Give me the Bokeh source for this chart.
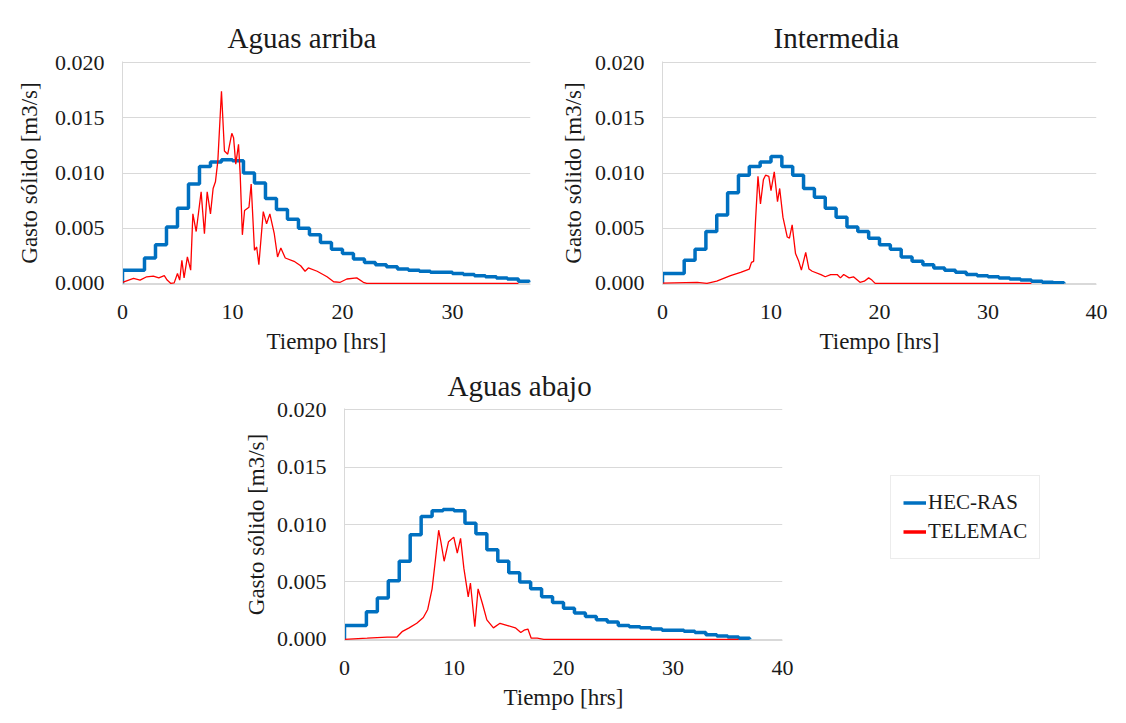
from bokeh.plotting import figure
from bokeh.layouts import column, row
from bokeh.models import (Range1d, FixedTicker, PrintfTickFormatter, Legend, LegendItem, Spacer)
from bokeh.embed import file_html
from bokeh.resources import INLINE

# ---------------- data ----------------
titles = ["Aguas arriba", "Intermedia", "Aguas abajo"]
x_label = "Tiempo [hrs]"
y_label = "Gasto sólido [m3/s]"
series_names = ["HEC-RAS", "TELEMAC"]
y_ticks = [0.0, 0.005, 0.010, 0.015, 0.020]

hec_t = [0, 0, 2, 3, 4, 5, 6, 7, 8, 9, 10, 11, 12, 13, 14, 15, 16, 17, 18, 19, 20,
         21, 22, 23, 24, 25, 26, 27, 28, 29, 30, 31, 32, 33, 34, 35, 36, 37]

hec_arriba = [0.0, 0.0012, 0.0023, 0.0035, 0.0051, 0.0068, 0.0090, 0.0106, 0.0110, 0.0112,
              0.0111, 0.0100, 0.0091, 0.0077, 0.0067, 0.0058, 0.0050, 0.0044, 0.0037, 0.0031,
              0.0027, 0.0022, 0.0019, 0.0017, 0.0015, 0.0013, 0.0012, 0.0011, 0.0010, 0.0010,
              0.0009, 0.0008, 0.0007, 0.0006, 0.0005, 0.0004, 0.0002, 0.0001]

hec_inter = [0.0, 0.0009, 0.0021, 0.0031, 0.0047, 0.0062, 0.0082, 0.0098, 0.0106, 0.0110,
             0.0115, 0.0106, 0.0098, 0.0086, 0.0078, 0.0068, 0.0060, 0.0051, 0.0047, 0.0041,
             0.0035, 0.0031, 0.0024, 0.0020, 0.0017, 0.0014, 0.0012, 0.0010, 0.0008, 0.0007,
             0.0006, 0.0005, 0.0004, 0.0003, 0.0002, 0.0001, 0.00005, 0.0]

hec_abajo = [0.0, 0.0012, 0.0024, 0.0036, 0.0051, 0.0068, 0.0091, 0.0107, 0.0112, 0.0113,
             0.0112, 0.0101, 0.0092, 0.0078, 0.0068, 0.0058, 0.0050, 0.0044, 0.0037, 0.0032,
             0.0027, 0.0023, 0.0020, 0.0017, 0.0015, 0.0012, 0.0011, 0.0010, 0.0009, 0.0008,
             0.0008, 0.0007, 0.0006, 0.0004, 0.0003, 0.0002, 0.0001, 0.0]

tel_arriba_t = [0, 1.0, 1.6, 2.2, 2.8, 3.3, 3.8, 4.06, 4.4, 4.7, 5.0, 5.2, 5.4, 5.6, 5.9, 6.2,
                6.4, 6.7, 7.15, 7.45, 7.7, 8.0, 8.24, 8.45, 8.67, 9.0, 9.27, 9.57, 9.94, 10.1,
                10.3, 10.55, 10.7, 10.9, 11.1, 11.5, 11.7, 12.0, 12.2, 12.4, 12.8, 13.1, 13.4,
                13.8, 14.1, 14.4, 14.8, 15.6, 16.2, 16.6, 16.9, 17.7, 18.6, 19.2, 19.8, 20.4,
                21.3, 21.9, 22.2, 36.0]
tel_arriba = [0.0001, 0.00045, 0.0003, 0.0006, 0.00066, 0.0005, 0.0007, 0.0003, 0.0, 0.00005,
              0.0009, 0.0003, 0.0021, 0.0005, 0.0024, 0.0012, 0.0063, 0.0047, 0.0083, 0.0045,
              0.0083, 0.0063, 0.0086, 0.0092, 0.0111, 0.0174, 0.0120, 0.0117, 0.0136, 0.0132,
              0.0108, 0.0126, 0.0099, 0.0044, 0.0066, 0.0069, 0.0090, 0.0030, 0.0033, 0.0017,
              0.0065, 0.0054, 0.0063, 0.0045, 0.0024, 0.0032, 0.0023, 0.0020, 0.0016, 0.0011,
              0.0014, 0.0011, 0.0006, 0.00015, 0.0001, 0.0004, 0.0005, 0.0001, 0.0, 0.0]

tel_inter_t = [0, 3.2, 4.1, 5.0, 6.27, 7.2, 8.0, 8.2, 8.4, 8.57, 8.8, 9.03, 9.3, 9.5, 9.8, 10.0,
               10.3, 10.6, 10.8, 11.1, 11.5, 11.7, 11.95, 12.26, 12.56, 12.8, 13.2, 13.5, 13.8,
               14.6, 15.0, 15.5, 16.1, 16.4, 16.7, 17.2, 17.6, 18.2, 18.6, 19.0, 19.3, 19.6, 34.0]
tel_inter = [0.00002, 0.0001, 0.0, 0.0002, 0.0007, 0.0010, 0.0013, 0.0019, 0.0020, 0.0056,
             0.0097, 0.0072, 0.0094, 0.0098, 0.0097, 0.0084, 0.0101, 0.0074, 0.0086, 0.0060,
             0.0042, 0.0041, 0.0053, 0.0027, 0.0020, 0.0012, 0.0028, 0.0013, 0.0011, 0.0008,
             0.0006, 0.0008, 0.0008, 0.0005, 0.0008, 0.0005, 0.0006, 0.0001, 0.0002, 0.0005,
             0.0003, 0.0, 0.0]

tel_abajo_t = [0, 2.07, 3.9, 4.8, 5.3, 5.9, 6.6, 7.2, 7.6, 8.0, 8.3, 8.6, 8.8, 9.1, 9.5, 9.98,
               10.3, 10.6, 10.9, 11.3, 11.5, 11.9, 12.2, 12.6, 13.0, 13.6, 14.2, 14.9, 15.6,
               16.1, 16.4, 16.75, 17.05, 17.6, 18.2, 36.0]
tel_abajo = [0.0, 0.0001, 0.0002, 0.0002, 0.0007, 0.0010, 0.0014, 0.0019, 0.0026, 0.0044,
             0.0069, 0.0095, 0.0085, 0.0068, 0.0085, 0.0089, 0.0075, 0.0088, 0.0062, 0.0037,
             0.0049, 0.0011, 0.0044, 0.0031, 0.0017, 0.0010, 0.0014, 0.0012, 0.0010, 0.0006,
             0.0008, 0.0009, 0.0001, 0.0001, 0.0, 0.0]

BLUE = "#0070C0"
RED = "#FF0000"
FONT = "'Liberation Serif', 'Times New Roman', serif"
TXT = "#1a1a1a"
GRID = "#d9d9d9"


def make_panel(title, hec, tel_t, tel, xmax, xticks, w, h, bl, br, bt, bb,
               title_offset, title_standoff, ylab_standoff):
    p = figure(width=w, height=h, output_backend="svg", toolbar_location=None,
               x_range=Range1d(0, xmax), y_range=Range1d(-0.0001, 0.0201),
               min_border_left=bl, min_border_right=br, min_border_top=bt,
               min_border_bottom=bb, outline_line_color=None)
    p.step(hec_t, hec, mode="after", line_color=BLUE, line_width=3.5)
    p.line(tel_t, tel, line_color=RED, line_width=1.3)
    p.title.text = title
    p.title.text_font = FONT
    p.title.text_font_size = "29px"
    p.title.text_font_style = "normal"
    p.title.text_line_height = 1.0
    p.title.text_color = TXT
    p.title.align = "left"
    p.title.offset = title_offset
    p.title.standoff = title_standoff
    p.xaxis.ticker = FixedTicker(ticks=xticks)
    p.yaxis.ticker = FixedTicker(ticks=y_ticks)
    p.yaxis.formatter = PrintfTickFormatter(format="%.3f")
    p.xgrid.visible = False
    p.ygrid.ticker = FixedTicker(ticks=y_ticks)
    p.ygrid.grid_line_color = GRID
    p.ygrid.grid_line_width = 1
    for ax in (p.xaxis[0], p.yaxis[0]):
        ax.axis_line_color = GRID
        ax.major_tick_line_color = None
        ax.minor_tick_line_color = None
        ax.major_tick_out = 0
        ax.major_tick_in = 0
        ax.major_label_text_font = FONT
        ax.major_label_text_font_size = "22px"
        ax.major_label_text_color = TXT
        ax.axis_label_text_font = FONT
        ax.axis_label_text_font_size = "23px"
        ax.axis_label_text_font_style = "normal"
        ax.axis_label_text_color = TXT
    p.xaxis.axis_label = x_label
    p.yaxis.axis_label = y_label
    p.xaxis.major_label_standoff = 20
    p.xaxis.axis_label_standoff = 7
    p.yaxis.major_label_standoff = 18
    p.yaxis.axis_label_standoff = ylab_standoff
    return p


p1 = make_panel(titles[0], hec_arriba, tel_arriba_t, tel_arriba, 37.1, [0, 10, 20, 30],
                556, 358, 122, 26, 61, 74, 105, 15, 10)
p2 = make_panel(titles[1], hec_inter, tel_inter_t, tel_inter, 40, [0, 10, 20, 30, 40],
                562, 358, 106, 22, 61, 74, 111, 15, 6)
p3 = make_panel(titles[2], hec_abajo, tel_abajo_t, tel_abajo, 40, [0, 10, 20, 30, 40],
                600, 363, 114, 48, 50, 81, 103, 14, 5)

# legend-only figure
pl = figure(width=288, height=363, output_backend="svg", toolbar_location=None,
            x_range=Range1d(0, 1), y_range=Range1d(0, 1), min_border=0,
            x_axis_location=None, y_axis_location=None, outline_line_color=None)
pl.xgrid.visible = False
pl.ygrid.visible = False
r_hec = pl.line([5, 6], [5, 6], line_color=BLUE, line_width=3.5)
r_tel = pl.line([5, 6], [5, 6], line_color=RED, line_width=3.5)
leg = Legend(items=[LegendItem(label=series_names[0], renderers=[r_hec]),
                    LegendItem(label=series_names[1], renderers=[r_tel])],
             location=(60, 81), border_line_color=GRID, border_line_width=1,
             label_text_font=FONT, label_text_font_size="21px", label_text_color=TXT,
             glyph_width=23, glyph_height=23, label_standoff=2, label_height=29,
             spacing=0, padding=12, margin=0, background_fill_alpha=1)
pl.add_layout(leg)

layout = column(row(p1, p2), row(Spacer(width=230, height=363), p3, pl))

open("out.html", "w").write(file_html(layout, INLINE))
